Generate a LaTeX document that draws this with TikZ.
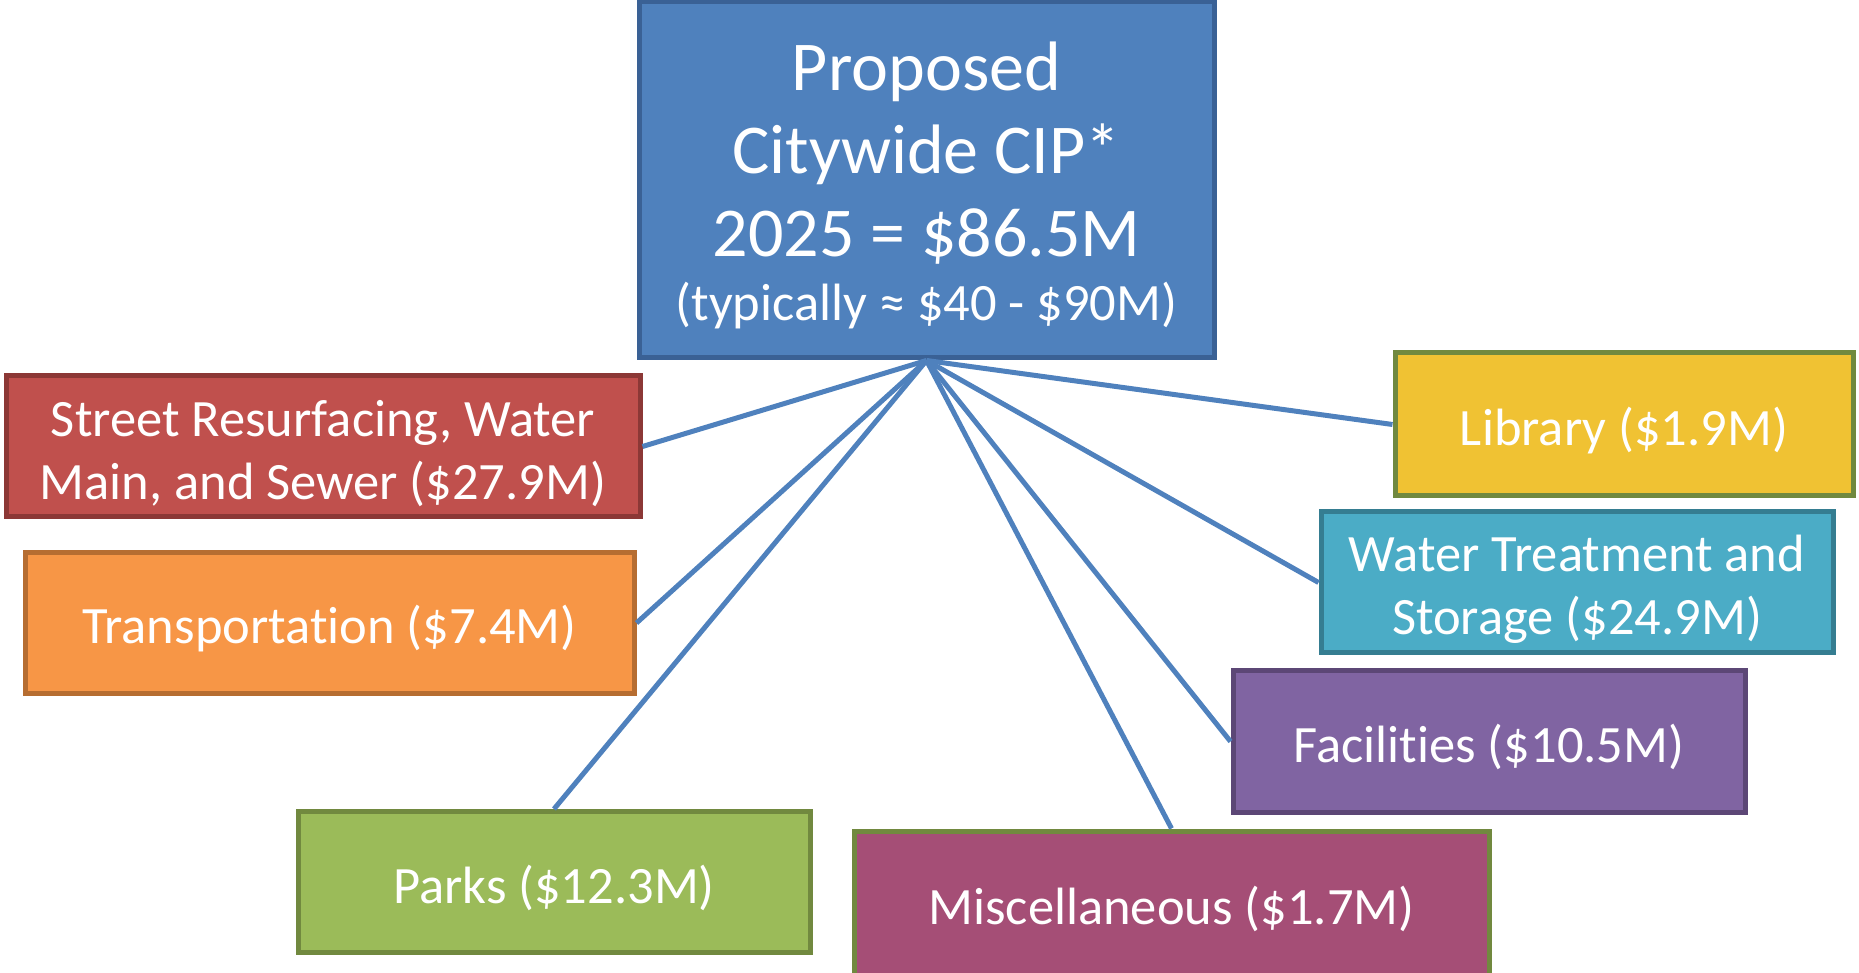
\documentclass[tikz,border=0pt]{standalone}
\usepackage{fontspec}
\setmainfont{Carlito}[Ligatures=NoCommon]
\definecolor{cipfill}{HTML}{4F81BD}
\definecolor{cipline}{HTML}{3A6195}
\definecolor{streetfill}{HTML}{C0504D}
\definecolor{streetline}{HTML}{8C3836}
\definecolor{transfill}{HTML}{F79646}
\definecolor{transline}{HTML}{B66D31}
\definecolor{parksfill}{HTML}{9BBB59}
\definecolor{greenline}{HTML}{71893F}
\definecolor{miscfill}{HTML}{A54E76}
\definecolor{facfill}{HTML}{8064A2}
\definecolor{facline}{HTML}{5C4776}
\definecolor{waterfill}{HTML}{4BACC6}
\definecolor{waterline}{HTML}{357D91}
\definecolor{libfill}{HTML}{F0C233}
\newcommand\topstrut[1][0.95em]{\rule{0pt}{#1}}
\begin{document}
\begin{tikzpicture}[x=1pt,y=1pt,
  box/.style={draw,line width=5pt,text=white,align=center,inner sep=0pt,
    minimum height=141pt,font=\fontsize{52.5}{63}\selectfont,
    execute at begin node={\topstrut}},
  link/.style={cipfill,line width=5pt}]
\useasboundingbox (0,0) rectangle (1859,972);
\node[box,fill=cipfill,draw=cipline,minimum width=575pt,minimum height=356pt,
  font=\fontsize{70}{83}\selectfont] (cip) at (926.5,792)
  {\topstrut[0.86em]Proposed\\Citywide CIP*\\2025 = \$86.5M\\[-19pt]{\fontsize{52.5}{63}\selectfont (typically ≈ \$40 - \$90M)}};
\node[box,fill=streetfill,draw=streetline,minimum width=634pt] (street) at (323,525.5)
  {\topstrut Street Resurfacing, Water\\Main, and Sewer (\$27.9M)};
\node[box,fill=transfill,draw=transline,minimum width=609pt] (trans) at (329.5,349)
  {Transportation (\$7.4M)};
\node[box,fill=parksfill,draw=greenline,minimum width=512pt] (parks) at (554,90)
  {Parks (\$12.3M)};
\node[box,fill=miscfill,draw=greenline,minimum width=635pt,minimum height=144pt] (misc) at (1171.5,69)
  {Miscellaneous (\$1.7M)};
\node[box,fill=facfill,draw=facline,minimum width=512pt] (fac) at (1489,230.5)
  {Facilities (\$10.5M)};
\node[box,fill=waterfill,draw=waterline,minimum width=512pt] (water) at (1577,389.5)
  {\topstrut Water Treatment and\\Storage (\$24.9M)};
\node[box,fill=libfill,draw=greenline,minimum width=458pt,minimum height=143pt] (lib) at (1624,547.5)
  {Library (\$1.9M)};
% links from the total to each program
\draw[link] (cip.south) -- (street.east);
\draw[link] (cip.south) -- (trans.east);
\draw[link] (cip.south) -- (parks.north);
\draw[link] (cip.south) -- (misc.north);
\draw[link] (cip.south) -- (fac.west);
\draw[link] (cip.south) -- (water.west);
\draw[link] (cip.south) -- (lib.west);
\end{tikzpicture}
\end{document}
